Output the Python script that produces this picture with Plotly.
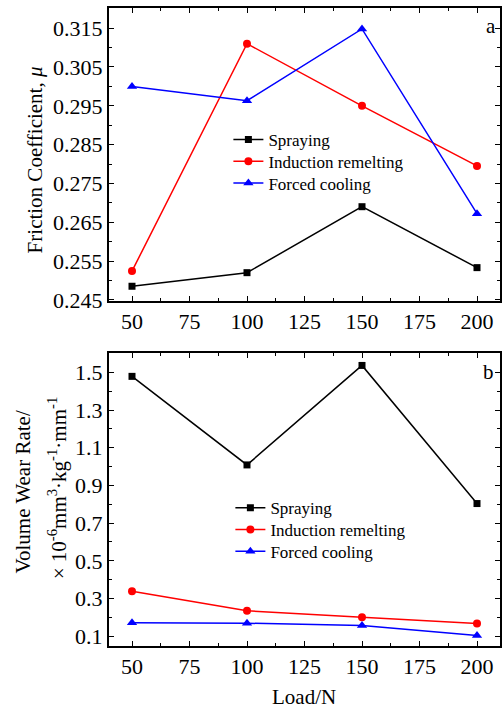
import plotly.graph_objects as go

loads = [50, 100, 150, 200]
series_names = ["Spraying", "Induction remelting", "Forced cooling"]
friction_spraying = [0.2485, 0.2520, 0.2690, 0.2533]
friction_induction = [0.2524, 0.3110, 0.2950, 0.2795]
friction_forced = [0.3000, 0.2963, 0.3148, 0.2672]
wear_spraying = [1.479, 1.009, 1.537, 0.804]
wear_induction = [0.338, 0.235, 0.200, 0.168]
wear_forced = [0.171, 0.169, 0.157, 0.104]
friction_ticks = [0.245, 0.255, 0.265, 0.275, 0.285, 0.295, 0.305, 0.315]
wear_ticks = [0.1, 0.3, 0.5, 0.7, 0.9, 1.1, 1.3, 1.5]
load_ticks = [50, 75, 100, 125, 150, 175, 200]

FONT = "Liberation Serif, Times New Roman, serif"
colors = ["#000000", "#ff0000", "#0000ff"]
symbols = ["square", "circle", "triangle-up"]
msizes = [7, 8, 9]

# page-pixel -> paper helpers (figure 504x709, plot area x 109..502, y 8..646)
def px(xp):
    return (xp - 109) / 393
def py(yp):
    return (646 - yp) / 638

fig = go.Figure()
top = [friction_spraying, friction_induction, friction_forced]
bot = [wear_spraying, wear_induction, wear_forced]
for i, name in enumerate(series_names):
    fig.add_trace(go.Scatter(x=loads, y=top[i], name=name, mode="lines+markers",
                             line=dict(color=colors[i], width=1.5),
                             marker=dict(symbol=symbols[i], size=msizes[i], color=colors[i]),
                             xaxis="x", yaxis="y", legend="legend" if i == 0 else f"legend{i+1}"))
for i, name in enumerate(series_names):
    fig.add_trace(go.Scatter(x=loads, y=bot[i], name=name, mode="lines+markers",
                             line=dict(color=colors[i], width=1.5),
                             marker=dict(symbol=symbols[i], size=msizes[i], color=colors[i]),
                             xaxis="x2", yaxis="y2", legend=f"legend{i+4}"))

axcommon = dict(showline=True, linecolor="black", linewidth=2, mirror="ticks",
                ticks="inside", ticklen=5, tickwidth=1.2, tickcolor="black",
                showgrid=False, zeroline=False,
                tickfont=dict(family=FONT, size=22, color="black"),
                minor=dict(ticks="inside", ticklen=3, tickwidth=1, tickcolor="black"))

top_dom = [py(301), 1.0]
bot_dom = [0.0, py(353)]

leg_font = dict(family=FONT, size=17, color="black")
top_leg_y = [140, 161.7, 183.4]
bot_leg_y = [508.3, 530, 551.7]
legends = {}
for i in range(3):
    key = "legend" if i == 0 else f"legend{i+1}"
    legends[key] = dict(x=px(229), y=py(top_leg_y[i]), xanchor="left", yanchor="middle",
                        bgcolor="rgba(0,0,0,0)", font=leg_font, itemwidth=30)
    legends[f"legend{i+4}"] = dict(x=px(231), y=py(bot_leg_y[i]), xanchor="left", yanchor="middle",
                                   bgcolor="rgba(0,0,0,0)", font=leg_font, itemwidth=30)

fig.update_layout(
    width=504, height=709,
    margin=dict(l=109, r=2, t=8, b=63),
    paper_bgcolor="white", plot_bgcolor="white",
    font=dict(family=FONT, color="black"),
    xaxis=dict(axcommon, domain=[0, 1], range=[40, 210], tickvals=load_ticks,
               minor=dict(axcommon["minor"], dtick=12.5, tick0=37.5), anchor="y"),
    yaxis=dict(axcommon, domain=top_dom, range=[0.2447, 0.3202], tickvals=friction_ticks,
               tickformat=".3f", minor=dict(axcommon["minor"], dtick=0.005, tick0=0.245), anchor="x"),
    xaxis2=dict(axcommon, domain=[0, 1], range=[40, 210], tickvals=load_ticks,
                minor=dict(axcommon["minor"], dtick=12.5, tick0=37.5), anchor="y2"),
    yaxis2=dict(axcommon, domain=bot_dom, range=[0.048, 1.603], tickvals=wear_ticks,
                tickformat=".1f", minor=dict(axcommon["minor"], dtick=0.1, tick0=0.0), anchor="x2"),
    showlegend=True,
    **legends,
)

ann_font = dict(family=FONT, size=21, color="black")
def ann(text, x, y, angle=0):
    fig.add_annotation(text=text, textangle=angle, x=px(x), y=py(y), xref="paper", yref="paper",
                       xanchor="center", yanchor="middle", showarrow=False, font=ann_font)

ann("Friction Coefficient, <i>μ</i>", 35, 160, -90)
ann("Volume Wear Rate/", 23, 492, -90)
ann("× 10<sup>-6</sup>mm<sup>3</sup>·kg<sup>-1</sup>·mm<sup>-1</sup>", 57, 488, -90)
ann("Load/N", 305, 697)
ann("a", 493, 26)
ann("b", 490, 372)

fig.write_html("out.html", config={"displayModeBar": False},
               post_script="document.body.style.margin='0px';document.body.style.overflow='hidden';")
